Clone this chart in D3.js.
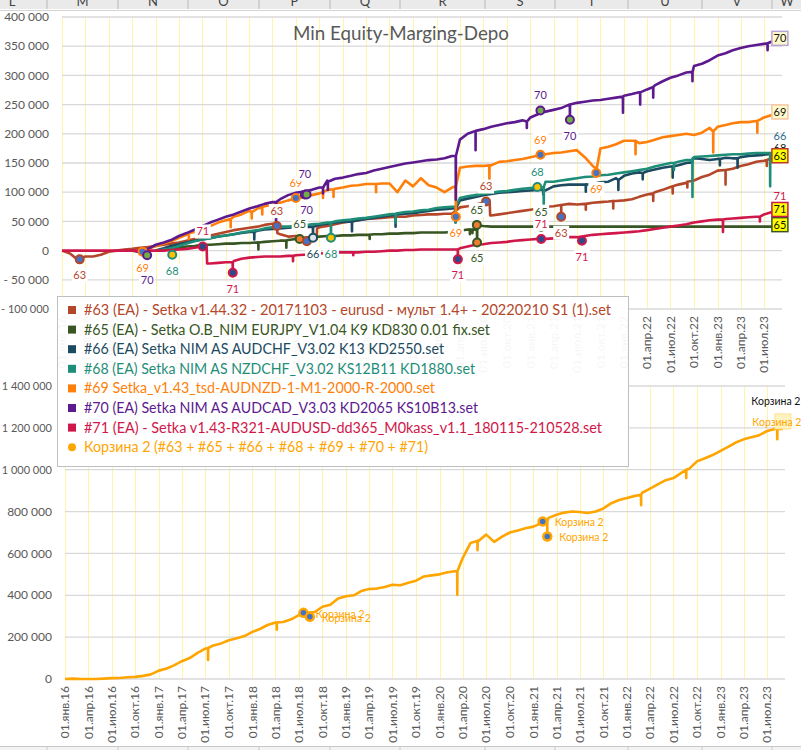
<!DOCTYPE html>
<html><head><meta charset="utf-8">
<script src="https://cdn.jsdelivr.net/npm/d3@7"></script>
<style>body{margin:0;background:#fff}svg{display:block;font-family:Lato,"Open Sans",sans-serif}</style>
</head><body>
<svg id="c" width="801" height="750"></svg>
<script>
// ---------------- DATA (values in thousands) ----------------
const UNIT = 1000;
const startMonth = "2016-01";           // index 0 of monthly arrays
const seriesKeys = ["63","65","66","68","69","70","71"];
const seriesNames = [
  "#63 (EA) - Setka v1.44.32 - 20171103 - eurusd - мульт 1.4+ - 20220210 S1 (1).set",
  "#65 (EA) - Setka O.B_NIM EURJPY_V1.04 K9 KD830 0.01 fix.set",
  "#66 (EA) Setka NIM AS AUDCHF_V3.02 K13 KD2550.set",
  "#68 (EA) Setka NIM AS NZDCHF_V3.02 KS12B11 KD1880.set",
  "#69 Setka_v1.43_tsd-AUDNZD-1-M1-2000-R-2000.set",
  "#70 (EA) Setka NIM AS AUDCAD_V3.03 KD2065 KS10B13.set",
  "#71 (EA) - Setka v1.43-R321-AUDUSD-dd365_M0kass_v1.1_180115-210528.set"
];
const basketName = "Корзина 2 (#63 + #65 + #66 + #68 + #69 + #70 + #71)";
const basketShort = "Корзина 2";
const N = null;

const v63 = [0,-5,-15,-10,-10,-7,-2,0,2,3,5,6,
  8,10,12,14,17,20,23,26,29,32,35,37,
  39,41,44,46,28,24,25,20,18,40,42,45,
  48,50,52,54,55,56,57,58,58,60,61,62,
  62,63,63,74,76,79,82,60,62,64,66,68,
  70,72,75,76,78,80,79,80,82,83,84,85,
  86,88,92,96,100,104,109,113,116,120,126,130,
  137,138,140,145,148,152,154,158,159];
const steps63 = [["2018-04-18",46],["2018-04-20",30],["2018-09-20",20],["2018-09-22",38],["2020-07-12",84],["2020-07-26",84],["2020-07-28",60]];
const spikes63 = [["2018-08-13",20,16],["2021-05-01",78,58],["2021-08-05",80,70],["2021-11-20",85,72],["2022-04-25",98,85],["2022-07-10",110,98],["2022-09-05",118,108],["2023-02-01",138,113],["2023-07-12",155,145]];

const v65 = [N,N,N,N,N,N,N,N,N,N,N,N,
  0,2,4,5,7,8,10,10,11,12,12,13,
  13,14,15,16,17,18,20,22,23,24,25,25,
  26,26,27,27,28,28,29,29,30,30,31,31,
  31,31,32,34,36,36,42,41,41,41,41,41,
  41,41,41,41,41,41,41,41,41,41,41,41,
  41,41,41,41,41,41,41,41,41,41,41,41,
  41,41,41,41,41,41,41,41,41];
const steps65 = [["2020-06-05",37],["2020-06-06",44],["2020-06-07",14],["2020-06-08",43]];
const spikes65 = [["2018-02-05",14,2],["2018-05-25",17,5],["2019-04-15",27,20],["2020-05-10",36,28],["2020-05-20",36,30]];

const v66 = [N,N,N,N,N,N,N,N,N,N,N,N,
  0,4,8,11,14,17,19,21,24,26,28,30,
  32,34,36,37,38,39,40,40,41,44,46,48,
  49,50,52,54,56,58,60,62,63,64,66,68,
  70,71,72,86,89,92,95,97,99,100,101,102,
  103,104,103,110,112,113,113,113,114,117,118,124,
  128,132,134,136,139,142,144,146,150,158,157,155,
  157,159,158,160,162,163,164,166,167];
const steps66 = [["2022-09-24",151],["2022-09-26",158]];
const spikes66 = [["2018-01-20",32,19],["2018-09-06",41,22],["2019-02-05",50,33],["2019-07-25",61,41],["2020-03-15",72,48],["2021-02-20",104,96],["2021-08-05",113,101],["2021-12-10",121,104],["2022-03-15",133,122],["2022-07-10",144,125],["2023-01-10",157,146],["2023-03-20",158,142]];

const v68 = [N,N,N,N,N,N,N,N,N,N,N,N,
  0,2,4,8,12,16,19,21,24,26,28,31,
  33,35,38,40,41,41,42,43,45,46,48,50,
  52,53,55,56,58,60,62,64,66,67,69,70,
  73,74,75,90,93,95,97,99,101,102,104,106,
  107,108,118,118,120,122,124,126,127,129,130,132,
  134,136,138,140,144,147,150,152,155,160,161,162,
  163,164,165,165,166,167,167,162,162];
const steps68 = [];
const spikes68 = [["2017-03-06",4,-7],["2018-11-15",48,22],["2019-07-25",63,48],["2020-03-15",75,48],["2021-02-22",109,79],["2022-07-15",150,138],["2022-09-25",155,92],["2023-07-25",167,110]];

const v69 = [N,N,N,N,N,N,N,N,N,0,-2,2,
  8,12,16,22,27,32,38,42,48,52,58,62,
  68,72,76,78,82,86,89,92,95,98,104,106,
  108,111,112,114,114,115,115,100,120,110,124,112,
  108,100,108,142,144,145,145,146,152,153,155,157,
  160,163,165,167,168,170,172,160,145,175,178,182,
  188,188,184,186,190,194,196,198,200,198,202,210,
  212,215,218,220,220,222,228,232,234];
const steps69 = [];
const spikes69 = [["2017-05-10",30,20],["2017-07-20",40,28],["2017-10-20",54,40],["2018-01-10",66,55],["2018-02-20",74,62],["2018-10-15",100,90],["2018-11-25",105,92],["2019-05-10",114,100],["2020-03-16",110,58],["2020-07-25",146,118],["2021-09-16",140,133],["2022-02-15",188,165],["2022-12-15",204,168],["2023-06-05",222,202]];

const v70 = [N,N,N,N,N,N,N,N,N,0,-3,3,
  10,14,18,25,30,36,42,48,53,58,62,67,
  72,76,80,83,88,95,99,101,104,108,120,123,
  125,128,131,133,137,140,143,146,149,151,153,155,
  156,158,162,190,200,205,208,212,215,218,220,223,
  228,234,238,241,244,250,253,255,257,258,260,262,
  265,268,271,276,283,290,296,300,305,316,320,326,
  334,338,343,347,350,352,354,358,360];
const steps70 = [];
const spikes70 = [["2016-11-28",-3,-8],["2018-04-15",83,45],["2018-10-15",108,98],["2018-11-03",118,104],["2020-03-16",162,87],["2020-06-01",205,172],["2020-12-18",221,210],["2021-06-04",250,224],["2021-12-28",264,236],["2022-03-05",271,250],["2022-04-25",280,262],["2022-09-25",306,290],["2023-07-15",355,343]];

const v71 = [0,0,0,0,0,0,0,0,0,0,0,0,
  0,0,1,2,3,5,7,-22,-21,-20,-18,-14,
  -12,-11,-10,-10,-10,-9,-8,-7,-6,-5,-4,-3,
  -3,-3,-3,-2,-2,-1,0,0,1,1,2,2,
  2,2,2,4,7,10,11,13,14,15,17,18,
  19,20,20,21,22,23,23,25,27,28,29,30,
  31,32,33,35,37,39,41,43,45,48,50,52,
  53,54,55,56,57,58,62,66,67];
const steps71 = [["2017-07-18",7],["2017-07-20",-22]];
const spikes71 = [["2017-10-28",-20,-38],["2018-06-20",-9,-18],["2019-02-10",-3,-8],["2020-03-24",2,-15],["2021-07-21",24,17],["2023-01-22",53,32],["2023-06-15",58,50]];

const vBasket = [0,2,0,0,0,2,4,5,8,10,15,22,
  40,50,65,85,100,125,145,160,170,185,195,205,
  225,240,258,270,272,285,305,316,320,345,355,385,
  395,400,420,430,432,440,450,448,460,470,490,495,
  500,510,515,580,650,660,690,655,680,700,710,720,
  728,745,770,785,795,800,798,793,800,815,840,855,
  865,875,890,910,930,950,960,985,1005,1040,1055,1070,
  1090,1110,1130,1145,1155,1165,1185,1195,1195];
const spikesBasket = [["2017-07-12",148,91],["2018-04-06",270,235],["2018-08-13",318,297],["2020-03-10",515,403],["2020-05-28",660,615],["2021-02-24",755,681],["2022-02-25",880,830],["2022-08-20",1000,960],["2023-08-10",1195,1146]];

// data-label markers: [series, date, value, label placement]
const marks = [
  ["63","2016-03-10",-15,"b"],["69","2016-11-10",-2,"b"],["70","2016-11-28",-8,"b2"],
  ["68","2017-03-06",-7,"b"],["71","2017-07-03",7,"a"],["71","2017-10-28",-38,"b"],
  ["63","2018-04-18",42,"a"],["69","2018-07-01",90,"a"],["70","2018-08-05",96,"a2"],
  ["70","2018-08-12",96,"b"],["65","2018-07-16",20,"a"],["63","2018-08-13",16,""],
  ["66","2018-09-06",22,"b"],["68","2018-11-15",22,"b"],["69","2020-03-16",58,"b"],
  ["71","2020-03-24",-15,"b"],["65","2020-06-06",44,"a"],["65","2020-06-07",14,"b"],
  ["63","2020-07-12",84,"a"],["70","2021-02-09",240,"a"],["69","2021-02-09",164,"a"],
  ["68","2021-01-28",109,"a"],["65","2021-02-12",41,"a"],["71","2021-02-12",20,"a"],
  ["63","2021-05-01",58,"b"],["70","2021-06-04",224,"b"],["71","2021-07-21",17,"b"],
  ["69","2021-09-15",133,"b"]
];
const basketMarks = [["2018-07-19",316],["2018-08-13",297],["2021-02-06",753],["2021-02-24",681]];

const topTicks = [-100000,-50000,0,50000,100000,150000,200000,250000,300000,350000,400000];
const botTicks = [0,200000,400000,600000,800000,1000000,1200000,1400000];
const monthRu = ["янв","фев","мар","апр","май","июн","июл","авг","сен","окт","ноя","дек"];
const sheetCols = ["L","M","N","O","P","Q","R","S","T","U","V","W"];
const title = "Min Equity-Marging-Depo";

// ---------------- STYLE ----------------
const colors = {"63":"#B4472A","65":"#375623","66":"#1C4A60","68":"#1F8E78","69":"#FF7F0A","70":"#5C1A8E","71":"#D0174A"};
const markFill = {"63":"#4472C4","65":"#ED7D31","66":"#DDE6F0","68":"#FFC000","69":"#4472C4","70":"#70AD47","71":"#2E4A8B"};
const basketColor = "#FFA500";
const axisColor = "#595959";

// ---------------- HELPERS ----------------
const pM = d3.timeParse("%Y-%m"), pD = d3.timeParse("%Y-%m-%d");
const P = s => s.length === 7 ? pM(s) : pD(s);
const t0 = P(startMonth);
function build(vals, spikes, steps){
  const pts = [];
  vals.forEach((v,i)=>{ if(v!==null) pts.push({d:d3.timeMonth.offset(t0,i), v:v*UNIT}); });
  (steps||[]).forEach(([s,v])=>pts.push({d:P(s), v:v*UNIT}));
  (spikes||[]).forEach(([s,b,l])=>{ const t=P(s);
    pts.push({d:d3.timeHour.offset(t,-10),v:b*UNIT},{d:t,v:l*UNIT},{d:d3.timeHour.offset(t,10),v:b*UNIT}); });
  pts.sort((a,b)=>a.d-b.d);
  return pts;
}
const series = {
  "63":build(v63,spikes63,steps63),"65":build(v65,spikes65,steps65),"66":build(v66,spikes66,steps66),
  "68":build(v68,spikes68,steps68),"69":build(v69,spikes69,steps69),"70":build(v70,spikes70,steps70),
  "71":build(v71,spikes71,steps71)};
const basket = build(vBasket, spikesBasket, []);

const fmtNum = v => (v<0 ? "- " : "") + d3.format(",")(Math.abs(v)).replace(/,/g," ");
const fmtDate = d => "01." + monthRu[d.getMonth()] + "." + String(d.getFullYear()).slice(2);
// keep tick labels inside the left margin
function fitLeft(sel, maxW){ sel.each(function(){ if(this.getComputedTextLength()>maxW){ d3.select(this).attr("textLength",maxW).attr("lengthAdjust","spacingAndGlyphs"); } }); }

const svg = d3.select("#c");

// ---------------- SHEET CHROME ----------------
svg.append("defs").append("clipPath").attr("id","hdr").append("rect").attr("x",0).attr("y",0).attr("width",801).attr("height",9);
const colEdges = [47,118,188,259,330,400,485,555,628,702,772];
const hdr = svg.append("g");
hdr.append("rect").attr("x",0).attr("y",0).attr("width",801).attr("height",9).attr("fill","#EAEAEA");
hdr.selectAll("line.sep").data(colEdges).join("line").attr("x1",d=>d).attr("x2",d=>d).attr("y1",0).attr("y2",9).attr("stroke","#B8B8B8");
const colCenters = [12].concat(colEdges.map((e,i)=> i<colEdges.length-1 ? (e+colEdges[i+1])/2 : e+15));
hdr.append("g").attr("clip-path","url(#hdr)").selectAll("text").data(colCenters).join("text")
  .attr("x",d=>d).attr("y",6).attr("text-anchor","middle").attr("font-size",13).attr("fill","#444")
  .text((d,i)=>sheetCols[i]);
hdr.append("line").attr("x1",0).attr("x2",801).attr("y1",10.5).attr("y2",10.5).attr("stroke","#D4D4D4");
const ftr = svg.append("g");
ftr.append("rect").attr("x",0).attr("y",746).attr("width",801).attr("height",4).attr("fill","#F3F3F3");
ftr.append("line").attr("x1",0).attr("x2",801).attr("y1",746.5).attr("y2",746.5).attr("stroke","#C8C8C8");
ftr.selectAll("line.s").data(colEdges).join("line").attr("x1",d=>d).attr("x2",d=>d).attr("y1",746).attr("y2",750).attr("stroke","#C8C8C8");

// ---------------- TOP CHART ----------------
const xT = d3.scaleTime().domain([P("2016-01"),P("2023-07")]).range([62,764]);
const yT = d3.scaleLinear().domain([-100000,400000]).range([309,17]);
const quarters = d3.timeMonth.every(3).range(P("2016-01"), P("2023-08"));
const topG = svg.append("g");

topG.selectAll("line.vg").data(quarters).join("line")
  .attr("x1",d=>Math.round(xT(d))+0.5).attr("x2",d=>Math.round(xT(d))+0.5).attr("y1",17).attr("y2",309)
  .attr("stroke","#FFF5A8").attr("stroke-width",1);
topG.selectAll("line.hg").data(topTicks).join("line")
  .attr("x1",62).attr("x2",782).attr("y1",d=>yT(d)).attr("y2",d=>yT(d))
  .attr("stroke","#D9D9D9").attr("stroke-width",1.3);
topG.selectAll("text.yt").data(topTicks).join("text")
  .attr("x",49).attr("y",d=>yT(d)).attr("dy","0.35em").attr("text-anchor","end")
  .attr("font-size",12).attr("fill",axisColor).text(fmtNum).call(fitLeft,48);
topG.selectAll("text.xt").data(quarters).join("text")
  .attr("transform",d=>`translate(${xT(d)},316) rotate(-90)`).attr("dy","0.35em").attr("text-anchor","end")
  .attr("font-size",12).attr("fill",axisColor).text(fmtDate);

svg.append("text").attr("x",401).attr("y",40).attr("text-anchor","middle").attr("font-size",19)
  .attr("fill",axisColor).attr("textLength",216).attr("lengthAdjust","spacingAndGlyphs").text(title);

const lineT = d3.line().x(d=>xT(d.d)).y(d=>yT(d.v));
seriesKeys.forEach(k=>{
  topG.append("path").datum(series[k]).attr("d",lineT).attr("fill","none")
    .attr("stroke",colors[k]).attr("stroke-width",2.6).attr("stroke-linejoin","round");
});

// markers
topG.selectAll("circle.mk").data(marks).join("circle")
  .attr("cx",d=>xT(P(d[1]))).attr("cy",d=>yT(d[2]*UNIT)).attr("r",4)
  .attr("fill",d=>markFill[d[0]]).attr("stroke",d=>colors[d[0]]).attr("stroke-width",2);
const labOff = {a:-15,a2:-20,b:16,b2:25};
const lab = topG.selectAll("g.lab").data(marks.filter(d=>d[3])).join("g")
  .attr("transform",d=>`translate(${xT(P(d[1]))},${yT(d[2]*UNIT)+labOff[d[3]]})`);
lab.append("rect").attr("x",-8).attr("y",-7).attr("width",16).attr("height",14).attr("fill","#fff");
lab.append("text").attr("text-anchor","middle").attr("dy","0.35em").attr("font-size",11)
  .attr("fill",d=>colors[d[0]]).text(d=>d[0]);

// end labels (series number at the last point)
const endBox = {"70":["#FFFBCC","#B9A3D6"],"69":["#FFFBCC","#F7C6A0"],"63":["#FFFF00","#C0392B"],"71":["#FFFF00","#D0174A"],"65":["#FFFF00","#375623"]};
const endText = [["66",-17,"#2E6A8C"],["68",-8,"#222"],["71",-15,"#D0174A"]];
endText.forEach(([k,off,c])=>{
  const last = series[k][series[k].length-1];
  topG.append("text").attr("x",xT(last.d)).attr("y",yT(last.v)+off).attr("dy","0.35em")
    .attr("text-anchor","middle").attr("font-size",11).attr("fill",c).text(k);
});
Object.keys(endBox).forEach(k=>{
  const last = series[k][series[k].length-1];
  const g = topG.append("g").attr("transform",`translate(${xT(last.d)},${yT(last.v)-2})`);
  g.append("rect").attr("x",-8).attr("y",-7).attr("width",16).attr("height",14)
    .attr("fill",endBox[k][0]).attr("stroke",endBox[k][1]).attr("stroke-width",1.5);
  g.append("text").attr("text-anchor","middle").attr("dy","0.35em").attr("font-size",11).attr("fill","#111").text(k);
});

// ---------------- BOTTOM CHART ----------------
const xB = d3.scaleTime().domain([P("2016-01"),P("2023-07")]).range([65,767]);
const yB = d3.scaleLinear().domain([0,1400000]).range([679,386]);
const botG = svg.append("g");
botG.selectAll("line.vg").data(quarters).join("line")
  .attr("x1",d=>Math.round(xB(d))+0.5).attr("x2",d=>Math.round(xB(d))+0.5).attr("y1",386).attr("y2",679)
  .attr("stroke","#FFF5A8").attr("stroke-width",1);
botG.selectAll("line.hg").data(botTicks).join("line")
  .attr("x1",65).attr("x2",785).attr("y1",d=>yB(d)).attr("y2",d=>yB(d))
  .attr("stroke","#D9D9D9").attr("stroke-width",1.3);
botG.selectAll("text.yt").data(botTicks).join("text")
  .attr("x",52).attr("y",d=>yB(d)).attr("dy","0.35em").attr("text-anchor","end")
  .attr("font-size",d=>d>=1000000?11:12).attr("fill",axisColor).text(fmtNum).call(fitLeft,51);
botG.selectAll("text.xt").data(quarters).join("text")
  .attr("transform",d=>`translate(${xB(d)},686) rotate(-90)`).attr("dy","0.35em").attr("text-anchor","end")
  .attr("font-size",12).attr("fill",axisColor).text(fmtDate);
const lineB = d3.line().x(d=>xB(d.d)).y(d=>yB(d.v));
botG.append("path").datum(basket).attr("d",lineB).attr("fill","none")
  .attr("stroke",basketColor).attr("stroke-width",2.6).attr("stroke-linejoin","round");
botG.selectAll("circle.bm").data(basketMarks).join("circle")
  .attr("cx",d=>xB(P(d[0]))).attr("cy",d=>yB(d[1]*UNIT)).attr("r",4)
  .attr("fill","#4472C4").attr("stroke",basketColor).attr("stroke-width",2.5);
botG.selectAll("text.bl").data(basketMarks).join("text")
  .attr("x",d=>xB(P(d[0]))+12).attr("y",d=>yB(d[1]*UNIT)+1).attr("dy","0.35em")
  .attr("font-size",10.5).attr("fill",basketColor).text(basketShort);
{
  const last = basket[basket.length-1];
  const ex = xB(last.d), ey = yB(last.v);
  botG.append("rect").attr("x",ex-8).attr("y",ey-15).attr("width",16).attr("height",15)
    .attr("fill","#FFF4C0").attr("stroke","#FFE08A");
  botG.append("text").attr("x",ex-6).attr("y",ey-7).attr("dy","0.35em").attr("text-anchor","middle")
    .attr("font-size",10.5).attr("fill",basketColor).text(basketShort);
  botG.append("text").attr("x",ex-7).attr("y",ey-28).attr("dy","0.35em").attr("text-anchor","middle")
    .attr("font-size",10.5).attr("fill","#111").text(basketShort);
}

// ---------------- LEGEND ----------------
const legW = [527,406,360,391,351,394,518,344];
const leg = svg.append("g");
leg.append("rect").attr("x",57.5).attr("y",296.5).attr("width",571).attr("height",170)
  .attr("fill","#fff").attr("fill-opacity",0.94).attr("stroke","#BFBFBF");
const legItems = seriesKeys.map((k,i)=>({name:seriesNames[i], color:colors[k], sym:"sq"}))
  .concat([{name:basketName, color:basketColor, sym:"dot"}]);
const li = leg.selectAll("g.li").data(legItems).join("g")
  .attr("transform",(d,i)=>`translate(0,${310+i*19.6})`);
li.filter(d=>d.sym==="sq").append("rect").attr("x",68).attr("y",-4).attr("width",8).attr("height",8).attr("fill",d=>d.color);
li.filter(d=>d.sym==="dot").append("circle").attr("cx",72).attr("cy",0).attr("r",4).attr("fill",d=>d.color);
li.append("text").attr("x",84).attr("dy","0.35em").attr("font-size",14.5).attr("fill",d=>d.color)
  .attr("textLength",(d,i)=>legW[i]).attr("lengthAdjust","spacingAndGlyphs").text(d=>d.name);
</script>
</body></html>
